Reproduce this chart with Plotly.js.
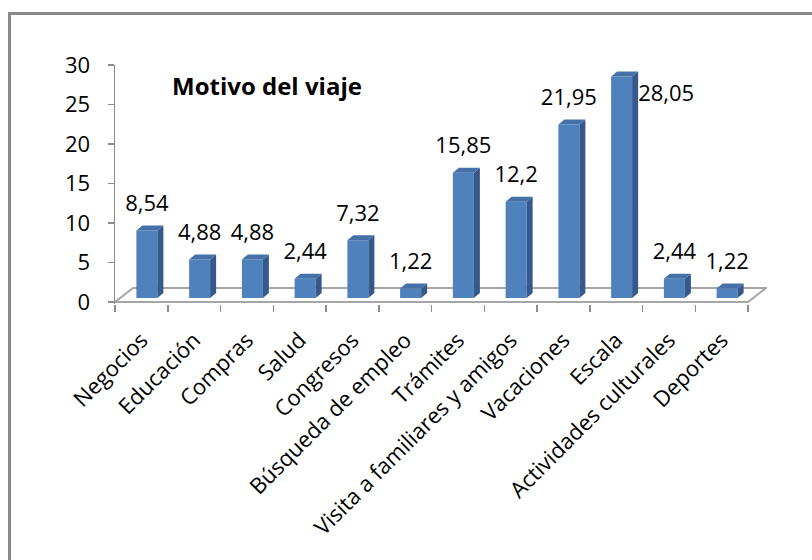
<!DOCTYPE html>
<html>
<head>
<meta charset="utf-8">
<script src="https://cdn.plot.ly/plotly-3.0.1.min.js"></script>
<style>
  html, body { margin: 0; padding: 0; background: #fff; }
  #wrap { position: relative; width: 812px; height: 560px; overflow: hidden; }
  #frame { position: absolute; left: 8px; top: 12px; width: 900px; height: 700px;
           border-left: 3px solid #8a8a8a; border-top: 3px solid #8a8a8a; box-sizing: border-box; }
  #chart { position: absolute; left: 0; top: 0; width: 812px; height: 560px; }
</style>
</head>
<body>
<div id="wrap"><div id="frame"></div><div id="chart"></div></div>
<script>
// ---- data ----
const categories = ["Negocios", "Educación", "Compras", "Salud", "Congresos", "Búsqueda de empleo",
  "Trámites", "Visita a familiares y amigos", "Vacaciones", "Escala", "Actividades culturales", "Deportes"];
const values = [8.54, 4.88, 4.88, 2.44, 7.32, 1.22, 15.85, 12.2, 21.95, 28.05, 2.44, 1.22];
const yTicks = [0, 5, 10, 15, 20, 25, 30];
const chartTitle = "Motivo del viaje";

// ---- geometry (pixels -> data units) ----
const plotL = 115, plotR = 767, plotT = 65;
const catPx = 52.75, valPx = 7.9;
const yMin = -0.25, yMax = 30;
const xMin = -0.5, xMax = xMin + (plotR - plotL) / catPx;
const plotB = plotT + (yMax - yMin) * valPx;

const fx = 18 / catPx, fy = 14 / valPx;        // floor depth
const ox = 5.5 / catPx, oy = 4 / valPx;        // bar front offset
const bw = 21 / catPx;                          // bar width
const dx = 6 / catPx, dy = 5 / valPx;          // bar depth
const labOff = 25 / valPx;

const idx = categories.map((_, i) => i);
const n = categories.length;
const bounds = idx.concat([n]).map(i => i - 0.5);

// side and top faces
const sideX = [], sideY = [], topX = [], topY = [];
values.forEach((v, i) => {
  const x1 = i + ox + bw / 2, x0 = i + ox - bw / 2, y0 = oy, y1 = oy + v;
  sideX.push(x1, x1 + dx, x1 + dx, x1, x1, null);
  sideY.push(y0, y0 + dy, y1 + dy, y1, y0, null);
  topX.push(x0, x1, x1 + dx, x0 + dx, x0, null);
  topY.push(y1, y1, y1 + dy, y1 + dy, y1, null);
});

const fmt = v => String(v).replace('.', ',');
const aboveX = [], aboveY = [], aboveT = [], rightX = [], rightY = [], rightT = [];
values.forEach((v, i) => {
  if (oy + v + labOff + 1.2 > yMax) {
    rightX.push(i + ox + bw / 2 + dx); rightY.push(oy + v - 19 / valPx); rightT.push(fmt(v));
  } else {
    aboveX.push(i + ox); aboveY.push(oy + v + labOff); aboveT.push(fmt(v));
  }
});

const font = "Open Sans, Noto Sans, sans-serif";
const fs = 22;
const traces = [
  { type: 'bar', x: idx.map(i => i + ox), y: values, base: oy, width: bw,
    marker: { color: '#4f81bd', line: { width: 0 } }, hoverinfo: 'skip' },
  { type: 'scatter', mode: 'lines', x: sideX, y: sideY, fill: 'toself', fillcolor: '#34598a',
    line: { width: 0, color: '#34598a' }, hoverinfo: 'skip' },
  { type: 'scatter', mode: 'lines', x: topX, y: topY, fill: 'toself', fillcolor: '#4570a8',
    line: { width: 0, color: '#4570a8' }, hoverinfo: 'skip' },
  { type: 'scatter', mode: 'text', x: aboveX, y: aboveY, text: aboveT, textposition: 'middle center',
    textfont: { family: font, size: fs, color: '#000' }, cliponaxis: false, hoverinfo: 'skip' },
  { type: 'scatter', mode: 'text', x: rightX, y: rightY, text: rightT, textposition: 'middle right',
    textfont: { family: font, size: fs, color: '#000' }, cliponaxis: false, hoverinfo: 'skip' },
  // carrier for the boundary-tick axis
  { type: 'scatter', mode: 'markers', x: [bounds[0]], y: [0], xaxis: 'x2', yaxis: 'y',
    marker: { opacity: 0, size: 1 }, hoverinfo: 'skip' }
];

const bx0 = xMin, bx1 = xMin + n;
const floorPath = `M ${bx0},0 L ${bx1},0 L ${bx1 + fx},${fy} L ${bx0 + fx},${fy} Z`;

const layout = {
  width: 812, height: 560,
  margin: { l: plotL, r: 812 - plotR, t: plotT, b: 560 - plotB, pad: 0 },
  paper_bgcolor: 'rgba(0,0,0,0)', plot_bgcolor: 'rgba(0,0,0,0)',
  showlegend: false,
  font: { family: font, color: '#000' },
  xaxis: {
    range: [xMin, xMax], showgrid: false, zeroline: false, showline: false,
    tickmode: 'array', tickvals: idx, ticktext: categories, ticks: '',
    tickangle: -45, tickfont: { family: font, size: fs, color: '#000' }, ticklabelstandoff: 18
  },
  xaxis2: {
    overlaying: 'x', anchor: 'y', side: 'bottom',
    range: [xMin, xMax], showgrid: false, zeroline: false, showline: false,
    tickmode: 'array', tickvals: bounds, showticklabels: false,
    ticks: 'outside', ticklen: 7, tickwidth: 1.5, tickcolor: '#8c8c8c'
  },
  yaxis: {
    range: [yMin, yMax], showgrid: false, zeroline: false,
    showline: true, linecolor: '#8c8c8c', linewidth: 1.5,
    tickmode: 'array', tickvals: yTicks, ticks: 'outside', ticklen: 6, tickwidth: 1.5, tickcolor: '#8c8c8c',
    tickfont: { family: font, size: fs, color: '#000' }, ticklabelstandoff: 13
  },
  shapes: [
    { type: 'path', xref: 'x', yref: 'y', path: floorPath, layer: 'below',
      line: { color: '#a6a6a6', width: 2 } }
  ],
  annotations: [
    { text: '<b>' + chartTitle + '</b>', xref: 'paper', yref: 'paper',
      x: (170 - plotL) / (plotR - plotL), y: (plotB - 85) / (plotB - plotT),
      xanchor: 'left', yanchor: 'middle', showarrow: false,
      font: { family: font, size: 24, color: '#000' } }
  ]
};

Plotly.newPlot('chart', traces, layout, { displayModeBar: false, staticPlot: true });
</script>
</body>
</html>
